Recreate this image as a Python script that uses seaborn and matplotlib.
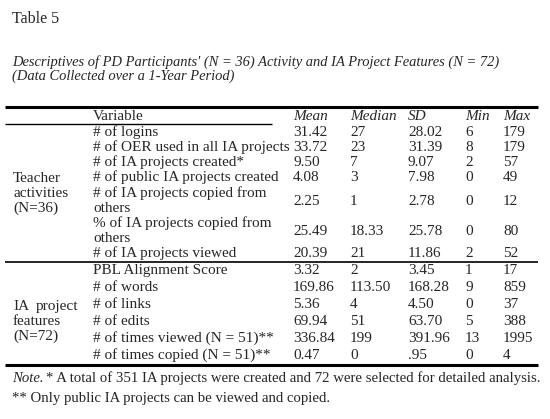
import matplotlib
matplotlib.use("Agg")
import matplotlib.pyplot as plt
import seaborn as sns

# table content
table_label = "Table 5"
title_lines = [
    "Descriptives of PD Participants' (N = 36) Activity and IA Project Features (N = 72)",
    "(Data Collected over a 1-Year Period)",
]
headers = ["Mean", "Median", "SD", "Min", "Max"]

teacher_vars = [
    "# of logins",
    "# of OER used in all IA projects",
    "# of IA projects created*",
    "# of public IA projects created",
    "# of IA projects copied from\nothers",
    "% of IA projects copied from\nothers",
    "# of IA projects viewed",
]
teacher_mean = ["31.42", "33.72", "9.50", "4.08", "2.25", "25.49", "20.39"]
teacher_median = ["27", "23", "7", "3", "1", "18.33", "21"]
teacher_sd = ["28.02", "31.39", "9.07", "7.98", "2.78", "25.78", "11.86"]
teacher_min = ["6", "8", "2", "0", "0", "0", "2"]
teacher_max = ["179", "179", "57", "49", "12", "80", "52"]

project_vars = [
    "PBL Alignment Score",
    "# of words",
    "# of links",
    "# of edits",
    "# of times viewed (N = 51)**",
    "# of times copied (N = 51)**",
]
project_mean = ["3.32", "169.86", "5.36", "69.94", "336.84", "0.47"]
project_median = ["2", "113.50", "4", "51", "199", "0"]
project_sd = ["3.45", "168.28", "4.50", "63.70", "391.96", ".95"]
project_min = ["1", "9", "0", "5", "13", "0"]
project_max = ["17", "859", "37", "388", "1995", "4"]

note_lines = [
    "* A total of 351 IA projects were created and 72 were selected for detailed analysis.",
    "** Only public IA projects can be viewed and copied.",
]

sns.set_theme(style="white")
plt.rcParams["font.family"] = ["Liberation Serif", "DejaVu Serif"]

FS = 11
fig = plt.figure(figsize=(5.5, 4.19), dpi=100)
ax = fig.add_axes([0, 0, 1, 1])
ax.set_xlim(0, 550)
ax.set_ylim(419, 0)
ax.axis("off")

col_x = [293, 350, 408, 465, 503]
var_x = 93
left = 5
right = 538

ax.text(12, 19, table_label, fontsize=11.5, va="center")
ax.text(12, 62, title_lines[0], fontsize=10.45, style="italic", va="center")
ax.text(12, 76, title_lines[1], fontsize=10.45, style="italic", va="center")

# rules
ax.hlines(107, left, right, color="black", lw=2.2)
ax.hlines(124, left, 272, color="black", lw=1.0)
ax.hlines(262, left, right, color="black", lw=1.2)
ax.hlines(365, left, right, color="black", lw=2.2)

# header row
ax.text(var_x, 116, "Variable", fontsize=FS, va="center")
for x, h in zip(col_x, headers):
    ax.text(x, 116, h, fontsize=FS, style="italic", va="center")


def draw_block(names, cols, y0, step):
    y = y0
    for i, name in enumerate(names):
        parts = name.split("\n")
        for k, p in enumerate(parts):
            ax.text(var_x, y + k * step, p, fontsize=FS, va="center")
        ymid = y + (len(parts) - 1) * step / 2 + (len(parts) - 1) * 1
        for x, c in zip(col_x, cols):
            ax.text(x, ymid, c[i], fontsize=FS, va="center")
        y += len(parts) * step


draw_block(teacher_vars,
           [teacher_mean, teacher_median, teacher_sd, teacher_min, teacher_max],
           132, 15.2)
draw_block(project_vars,
           [project_mean, project_median, project_sd, project_min, project_max],
           270.5, 17)

# group labels
for k, t in enumerate(["Teacher", "activities", "(N=36)"]):
    ax.text(13, 178 + k * 15, t, fontsize=FS, va="center")
ax.text(13, 306, "IA", fontsize=FS, va="center")
ax.text(78, 306, "project", fontsize=FS, va="center", ha="right")
ax.text(13, 321, "features", fontsize=FS, va="center")
ax.text(13, 336, "(N=72)", fontsize=FS, va="center")

# note
ax.text(12, 378, "Note.", fontsize=10.6, style="italic", va="center")
ax.text(45.5, 378, note_lines[0], fontsize=10.6, va="center")
ax.text(12, 398, note_lines[1], fontsize=10.6, va="center")

fig.savefig("out.png", dpi=100, facecolor="white")
